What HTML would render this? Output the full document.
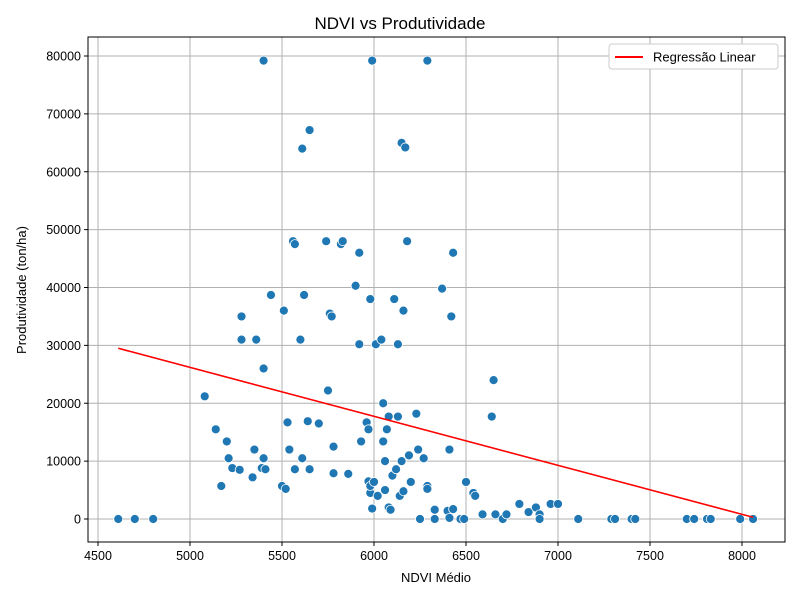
<!DOCTYPE html>
<html><head><meta charset="utf-8"><style>
body{margin:0;background:#fff;}
svg text{font-family:"Liberation Sans","DejaVu Sans",sans-serif;}
</style></head><body>
<svg id="chart" width="800" height="600" xmlns="http://www.w3.org/2000/svg">
<rect width="800" height="600" fill="#fff"/>
<g id="grid"></g><g id="ticks"></g><g id="points"></g><g id="line"></g>
<rect x="88" y="37" width="697" height="505" fill="none" stroke="#000" stroke-width="1"/>
<text x="400" y="29" font-size="17" text-anchor="middle">NDVI vs Produtividade</text>
<text x="436" y="582" font-size="13" text-anchor="middle">NDVI Médio</text>
<text transform="translate(26,290) rotate(-90)" font-size="13" text-anchor="middle">Produtividade (ton/ha)</text>
<g>
<rect x="609" y="44" width="169" height="25" rx="3" fill="#fff" stroke="#ccc"/>
<line x1="615" y1="57" x2="643" y2="57" stroke="red" stroke-width="2"/>
<text x="653" y="61.5" font-size="13">Regressão Linear</text>
</g>
</svg>
<script>
const xs=[4610,4700,4800,5080,5140,5170,5200,5210,5230,5270,5280,5280,5340,5350,5360,5390,5400,5400,5400,5410,5440,5500,5510,5520,5530,5540,5560,5570,5570,5600,5610,5620,5610,5640,5650,5650,5700,5740,5750,5760,5770,5780,5780,5820,5830,5860,5900,5920,5920,5930,5960,5970,5970,5980,5980,5980,5990,5990,6000,6010,6020,6040,6050,6050,6060,6060,6070,6080,6080,6090,6100,6110,6120,6130,6130,6140,6150,6150,6160,6160,6170,6180,6190,6200,6230,6240,6250,6270,6290,6290,6290,6330,6330,6370,6400,6410,6410,6420,6430,6430,6470,6490,6500,6540,6550,6590,6640,6650,6660,6700,6720,6790,6840,6880,6900,6900,6960,7000,7110,7290,7310,7400,7420,7700,7740,7810,7830,7990,8060];
const ys=[0,0,0,21200,15500,5700,13400,10500,8800,8500,31000,35000,7200,12000,31000,8800,26000,10500,79200,8600,38700,5700,36000,5200,16700,12000,48000,47500,8600,31000,10500,38700,64000,16900,67200,8600,16500,48000,22200,35500,35000,12500,7900,47500,48000,7800,40300,46000,30200,13400,16700,15500,6500,38000,4500,5700,79200,1800,6400,30200,4000,31000,13400,20000,10000,5000,15500,17700,2000,1600,7500,38000,8600,30200,17700,4000,65000,10000,4800,36000,64200,48000,11000,6400,18200,12000,0,10500,79200,5700,5200,0,1600,39800,1400,12000,200,35000,46000,1700,0,0,6400,4500,4000,800,17700,24000,800,0,800,2600,1200,2000,800,0,2600,2600,0,0,0,0,0,0,0,0,0,0,0];
// fitted regression coefficients: [intercept, slope]
const regCoef=[68520,-8.464];
const xTicks=[4500,5000,5500,6000,6500,7000,7500,8000];
const yTicks=[0,10000,20000,30000,40000,50000,60000,70000,80000];
const NS='http://www.w3.org/2000/svg';
const X=v=>98+(v-4500)*(644/3500);
const Y=v=>519-v*(463/80000);
function mk(p,t,a){const e=document.createElementNS(NS,t);for(const k in a)e.setAttribute(k,a[k]);document.getElementById(p).appendChild(e);return e;}
xTicks.forEach(t=>{
 const g=mk('grid','line',{x1:X(t),x2:X(t),y1:37,y2:542,stroke:'#b0b0b0','stroke-width':1});
 
 
 mk('ticks','line',{x1:X(t),x2:X(t),y1:542,y2:546,stroke:'#000'});
 const tx=mk('ticks','text',{x:X(t),y:560,'font-size':12.5,'text-anchor':'middle'});tx.textContent=t;
 
 
});
yTicks.forEach(t=>{
 const g=mk('grid','line',{x1:88,x2:785,y1:Y(t),y2:Y(t),stroke:'#b0b0b0','stroke-width':1});
 
 
 mk('ticks','line',{x1:84,x2:88,y1:Y(t),y2:Y(t),stroke:'#000'});
 const tx=mk('ticks','text',{x:81,y:Y(t)+4.5,'font-size':12.5,'text-anchor':'end'});tx.textContent=t;
 
 
});
xs.forEach((x,i)=>{
 const c=mk('points','circle',{cx:X(x),cy:Y(ys[i]),r:4.5,fill:'#1f77b4',stroke:'#fff','stroke-width':0.8});
 
 
});
const x0=Math.min(...xs),x1=Math.max(...xs);
const l=mk('line','line',{x1:X(x0),y1:Y(regCoef[0]+regCoef[1]*x0),x2:X(x1),y2:Y(regCoef[0]+regCoef[1]*x1),stroke:'red','stroke-width':1.6});


</script>
</body></html>
